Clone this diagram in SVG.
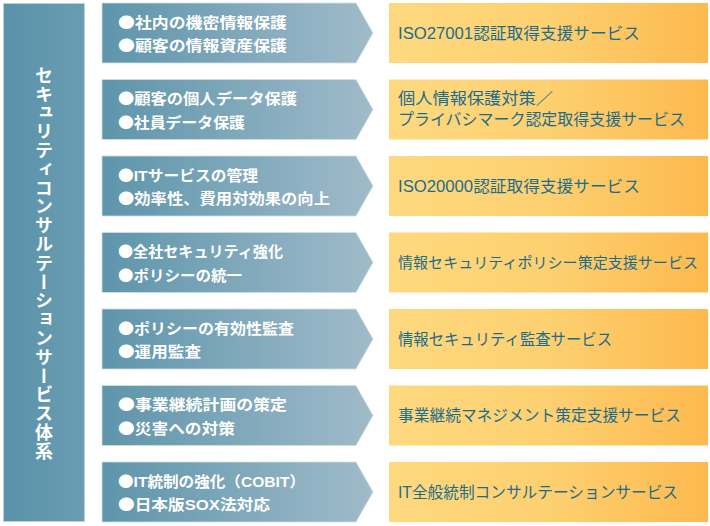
<svg xmlns="http://www.w3.org/2000/svg" width="710" height="526" viewBox="0 0 710 526">
<defs>
<linearGradient id="gBar" x1="0" y1="0" x2="1" y2="0">
<stop offset="0" stop-color="#5992a9"/><stop offset="1" stop-color="#6a9db2"/>
</linearGradient>
<linearGradient id="gArrow" x1="0" y1="0" x2="1" y2="0">
<stop offset="0" stop-color="#5e95ab"/><stop offset="1" stop-color="#a0bbca"/>
</linearGradient>
<linearGradient id="gOrange" x1="0" y1="0" x2="1" y2="0">
<stop offset="0" stop-color="#fed97f"/><stop offset="0.5" stop-color="#fdd070"/><stop offset="1" stop-color="#fdb94e"/>
</linearGradient>
<path id="arrowShape" d="M0,0 H254 L271,30 L254,60 H0 Z"/>
</defs>
<style>
.bar{fill:url(#gBar);stroke:#bfd2da;stroke-width:1}
.arrow{fill:url(#gArrow);stroke:#d2dfe6;stroke-width:0.8}
.svc{fill:url(#gOrange)}
.lt{font-family:"Liberation Sans","Noto Sans CJK JP",sans-serif;font-size:15px;font-weight:bold;fill:#ffffff}
.b{font-family:"Noto Sans CJK JP",sans-serif}
.st{font-family:"Liberation Sans","Noto Sans CJK JP",sans-serif;font-size:16px;fill:#1d6c8b}
.vt{font-family:"Noto Sans CJK JP",sans-serif;font-size:18px;font-weight:bold;fill:#ffffff;writing-mode:vertical-rl}
</style>
<rect width="710" height="526" fill="#ffffff"/>

<g id="title">
<rect class="bar" x="3.5" y="3.5" width="81" height="518"/>
<text class="vt" x="44" y="66" textLength="394" lengthAdjust="spacing">セキュリティコンサルテーションサービス体系</text>
</g>

<g id="row1">
<use href="#arrowShape" class="arrow" x="102" y="3"/>
<text class="lt" x="118" y="27.5" textLength="169" lengthAdjust="spacingAndGlyphs"><tspan class="b">●</tspan>社内の機密情報保護</text>
<text class="lt" x="118" y="51" textLength="169" lengthAdjust="spacingAndGlyphs"><tspan class="b">●</tspan>顧客の情報資産保護</text>
</g>
<g id="svc1">
<rect class="svc" x="389" y="3" width="319" height="60"/>
<text class="st" x="398" y="38.5" textLength="242" lengthAdjust="spacingAndGlyphs">ISO27001認証取得支援サービス</text>
</g>

<g id="row2">
<use href="#arrowShape" class="arrow" x="102" y="79.5"/>
<text class="lt" x="118" y="104" textLength="179" lengthAdjust="spacingAndGlyphs"><tspan class="b">●</tspan>顧客の個人データ保護</text>
<text class="lt" x="118" y="127.5" textLength="127" lengthAdjust="spacingAndGlyphs"><tspan class="b">●</tspan>社員データ保護</text>
</g>
<g id="svc2">
<rect class="svc" x="389" y="79.5" width="319" height="60"/>
<text class="st" x="398" y="103.5" textLength="155" lengthAdjust="spacingAndGlyphs">個人情報保護対策／</text>
<text class="st" x="398" y="124.5" textLength="287" lengthAdjust="spacingAndGlyphs">プライバシマーク認定取得支援サービス</text>
</g>

<g id="row3">
<use href="#arrowShape" class="arrow" x="102" y="156"/>
<text class="lt" x="118" y="180.5" textLength="140" lengthAdjust="spacingAndGlyphs"><tspan class="b">●</tspan>ITサービスの管理</text>
<text class="lt" x="118" y="204" textLength="212" lengthAdjust="spacingAndGlyphs"><tspan class="b">●</tspan>効率性、費用対効果の向上</text>
</g>
<g id="svc3">
<rect class="svc" x="389" y="156" width="319" height="60"/>
<text class="st" x="398" y="191.5" textLength="242" lengthAdjust="spacingAndGlyphs">ISO20000認証取得支援サービス</text>
</g>

<g id="row4">
<use href="#arrowShape" class="arrow" x="102" y="232.5"/>
<text class="lt" x="118" y="257" textLength="165" lengthAdjust="spacingAndGlyphs"><tspan class="b">●</tspan>全社セキュリティ強化</text>
<text class="lt" x="118" y="280.5" textLength="124" lengthAdjust="spacingAndGlyphs"><tspan class="b">●</tspan>ポリシーの統一</text>
</g>
<g id="svc4">
<rect class="svc" x="389" y="232.5" width="319" height="60"/>
<text class="st" x="398" y="268" font-size="15" style="font-size:15px" textLength="300" lengthAdjust="spacingAndGlyphs">情報セキュリティポリシー策定支援サービス</text>
</g>

<g id="row5">
<use href="#arrowShape" class="arrow" x="102" y="309"/>
<text class="lt" x="118" y="333.5" textLength="176" lengthAdjust="spacingAndGlyphs"><tspan class="b">●</tspan>ポリシーの有効性監査</text>
<text class="lt" x="118" y="357" textLength="83" lengthAdjust="spacingAndGlyphs"><tspan class="b">●</tspan>運用監査</text>
</g>
<g id="svc5">
<rect class="svc" x="389" y="309" width="319" height="60"/>
<text class="st" x="398" y="344.5" textLength="214" lengthAdjust="spacingAndGlyphs">情報セキュリティ監査サービス</text>
</g>

<g id="row6">
<use href="#arrowShape" class="arrow" x="102" y="385.5"/>
<text class="lt" x="118" y="410" textLength="169" lengthAdjust="spacingAndGlyphs"><tspan class="b">●</tspan>事業継続計画の策定</text>
<text class="lt" x="118" y="433.5" textLength="117" lengthAdjust="spacingAndGlyphs"><tspan class="b">●</tspan>災害への対策</text>
</g>
<g id="svc6">
<rect class="svc" x="389" y="385.5" width="319" height="60"/>
<text class="st" x="398" y="421" textLength="283" lengthAdjust="spacingAndGlyphs">事業継続マネジメント策定支援サービス</text>
</g>

<g id="row7">
<use href="#arrowShape" class="arrow" x="102" y="462"/>
<text class="lt" x="118" y="486.5" textLength="187" lengthAdjust="spacingAndGlyphs"><tspan class="b">●</tspan>IT統制の強化（COBIT）</text>
<text class="lt" x="118" y="510" textLength="152" lengthAdjust="spacingAndGlyphs"><tspan class="b">●</tspan>日本版SOX法対応</text>
</g>
<g id="svc7">
<rect class="svc" x="389" y="462" width="319" height="60"/>
<text class="st" x="398" y="497.5" textLength="280" lengthAdjust="spacingAndGlyphs">IT全般統制コンサルテーションサービス</text>
</g>

<g id="connectors"></g>
</svg>
